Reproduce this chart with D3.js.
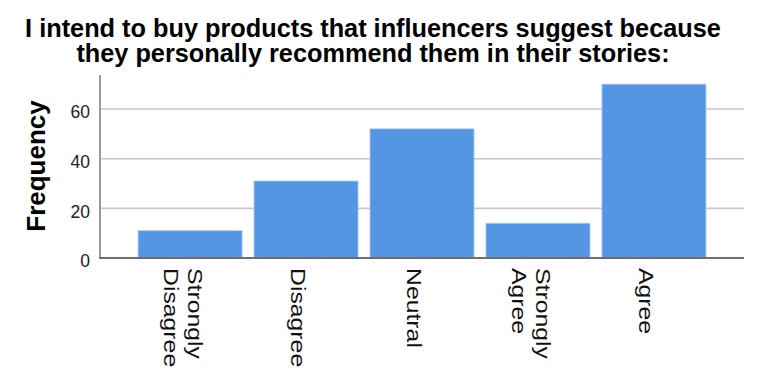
<!DOCTYPE html>
<html><head><meta charset="utf-8">
<script src="https://cdn.jsdelivr.net/npm/d3@7/dist/d3.min.js"></script>
<style>body{margin:0;background:#fff}svg{display:block}</style>
</head><body>
<svg id="c" width="762" height="383"></svg>
<script>
const categories = [["Strongly","Disagree"],["Disagree"],["Neutral"],["Strongly","Agree"],["Agree"]];
const frequencies = [11, 31, 52, 14, 70];
const yTicks = [0, 20, 40, 60];
const titleLines = ["I intend to buy products that influencers suggest because","they personally recommend them in their stories:"];
const yLabel = "Frequency";

const svg = d3.select("#c");
const font = "'Liberation Sans', Arial, sans-serif";
const keys = categories.map(c => c.join(" "));

const x = d3.scaleBand().domain(keys).range([100, 744]).paddingInner(0.103).paddingOuter(0.328);
const y = d3.scaleLinear().domain([0, 73.7]).range([258, 75]);

// gridlines
svg.append("g").selectAll("line").data(yTicks.filter(d => d > 0)).join("line")
  .attr("x1", 100).attr("x2", 744).attr("y1", d => y(d)).attr("y2", d => y(d))
  .attr("stroke", "#c8c8c8").attr("stroke-width", 1.6);

// bars
svg.append("g").selectAll("rect").data(frequencies).join("rect")
  .attr("x", (d, i) => x(keys[i])).attr("width", x.bandwidth())
  .attr("y", d => y(d)).attr("height", d => y(0) - y(d))
  .attr("fill", "#5596e4").attr("stroke", "#a9cbf2").attr("stroke-width", 0.8);

// y axis
const yAxis = d3.axisLeft(y).tickValues(yTicks).tickSize(0).tickPadding(10);
const ga = svg.append("g").attr("transform", "translate(100,0)").call(yAxis);
ga.select(".domain").remove();
ga.selectAll("text").attr("font-family", font).attr("font-size", 17.5).attr("fill", "#222").attr("dy", "0.5em");
svg.append("line").attr("x1", 100).attr("x2", 100).attr("y1", 75).attr("y2", 258.5)
  .attr("stroke", "#9a9a9a").attr("stroke-width", 2);

// x axis line
svg.append("line").attr("x1", 99).attr("x2", 744).attr("y1", y(0)).attr("y2", y(0))
  .attr("stroke", "#6e6e6e").attr("stroke-width", 2);

// x labels (rotated, glyphs stretched along reading direction as in the reference)
const xl = svg.append("g");
categories.forEach((lines, i) => {
  const cx = x(keys[i]) + x.bandwidth() / 2;
  const offsets = lines.length === 1 ? [-15] : [-2, -26];
  lines.forEach((t, j) => {
    xl.append("text").attr("transform", `translate(${cx + offsets[j]},268) rotate(90) scale(1.24,1)`)
      .attr("font-family", font).attr("font-size", 20).attr("fill", "#111")
      .attr("text-anchor", "start").text(t);
  });
});

// y label
svg.append("text").attr("transform", "translate(45,166) rotate(-90)")
  .attr("text-anchor", "middle").attr("font-family", font).attr("font-weight", "bold")
  .attr("font-size", 26).attr("fill", "#000").text(yLabel);

// title
svg.append("g").selectAll("text").data(titleLines).join("text")
  .attr("x", 373).attr("y", (d, i) => 36.5 + i * 25.5)
  .attr("text-anchor", "middle").attr("font-family", font).attr("font-weight", "bold")
  .attr("font-size", 25.3).attr("fill", "#000").text(d => d);
</script>
</body></html>
